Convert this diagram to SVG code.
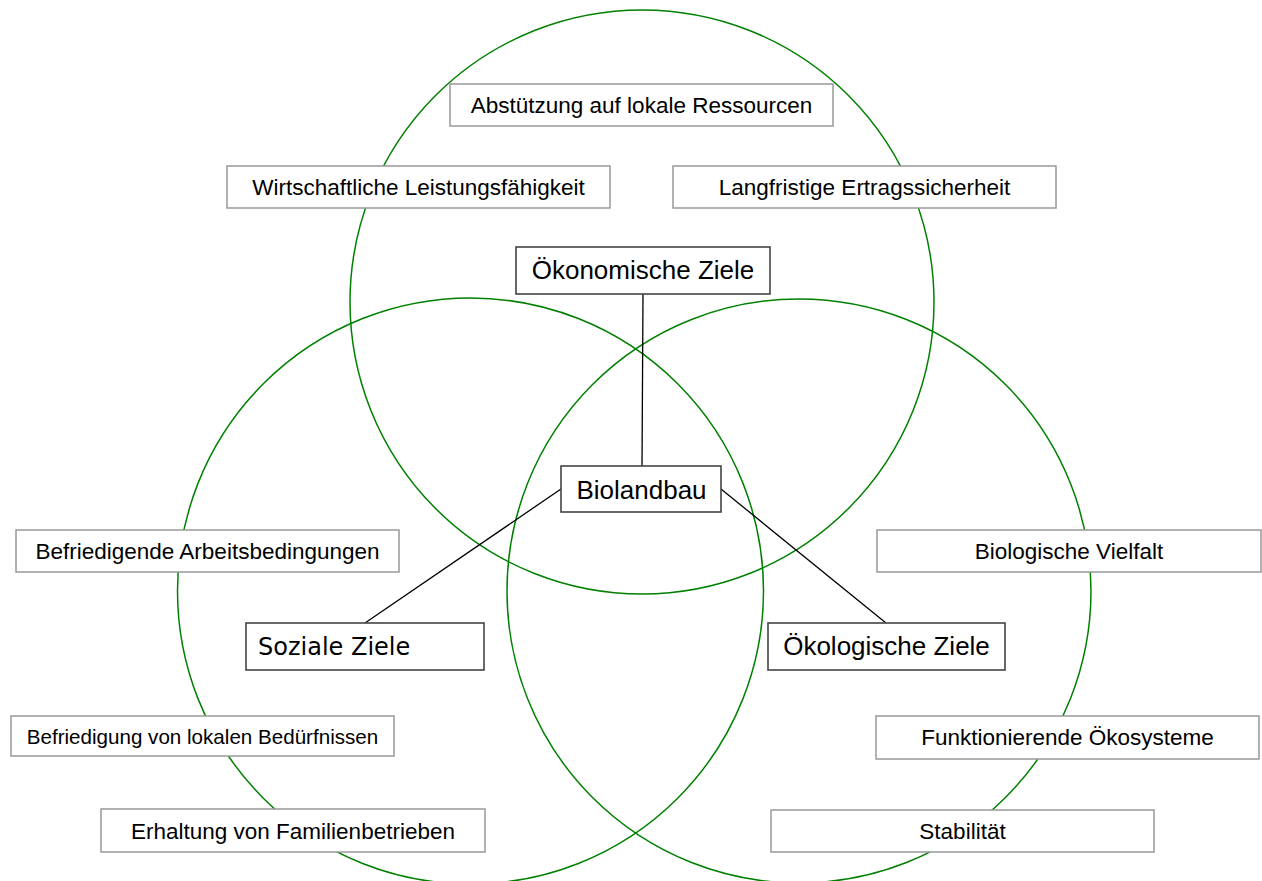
<svg xmlns="http://www.w3.org/2000/svg" width="1262" height="881" viewBox="0 0 1262 881">
<style>
.circle{fill:none;stroke:#008000;stroke-width:1.5}
.conn{stroke:#000;stroke-width:1.3;fill:none}
.small rect{fill:#fff;stroke:#999;stroke-width:1.5}
.main rect{fill:#fff;stroke:#444;stroke-width:1.6}
.small text{font-family:"Liberation Sans",Arial,sans-serif;font-size:22.5px;fill:#000;text-anchor:middle}
.small text.sm{font-size:20.6px}
.main text{font-family:"Liberation Sans",Arial,sans-serif;font-size:26px;fill:#000;text-anchor:middle}
.main text.dv{font-family:"DejaVu Sans",Verdana,sans-serif;font-size:24px;text-anchor:start}
</style>
<rect width="1262" height="881" fill="#fff"/>
<g id="circles">
<circle class="circle" cx="642" cy="302" r="292"/>
<circle class="circle" cx="470.5" cy="591" r="293"/>
<circle class="circle" cx="799" cy="591" r="292"/>
</g>
<g id="connectors">
<line class="conn" x1="643" y1="294" x2="642" y2="466"/>
<line class="conn" x1="561" y1="489" x2="365" y2="623"/>
<line class="conn" x1="721" y1="489" x2="886" y2="623"/>
</g>
<g id="n-abstuetzung" class="small"><rect x="450" y="84" width="383" height="42"/><text x="641.5" y="113">Abstützung auf lokale Ressourcen</text></g>
<g id="n-wirtschaftlich" class="small"><rect x="227" y="166" width="383" height="42"/><text x="418.5" y="195">Wirtschaftliche Leistungsfähigkeit</text></g>
<g id="n-langfristig" class="small"><rect x="673" y="166" width="383" height="42"/><text x="864.5" y="195">Langfristige Ertragssicherheit</text></g>
<g id="n-oekonomisch" class="main"><rect x="516" y="247" width="254" height="47"/><text x="643" y="279">Ökonomische Ziele</text></g>
<g id="n-biolandbau" class="main"><rect x="561" y="466" width="160" height="46"/><text x="641.5" y="499">Biolandbau</text></g>
<g id="n-sozial" class="main"><rect x="246" y="623" width="238" height="47"/><text class="dv" x="258" y="655">Soziale Ziele</text></g>
<g id="n-oekologisch" class="main"><rect x="768" y="623" width="237" height="47"/><text x="886.5" y="655">Ökologische Ziele</text></g>
<g id="n-biovielfalt" class="small"><rect x="877" y="530" width="384" height="42"/><text x="1069" y="559">Biologische Vielfalt</text></g>
<g id="n-oekosysteme" class="small"><rect x="876" y="716" width="383" height="43"/><text x="1067.5" y="745">Funktionierende Ökosysteme</text></g>
<g id="n-stabilitaet" class="small"><rect x="771" y="810" width="383" height="42"/><text x="962.5" y="839">Stabilität</text></g>
<g id="n-arbeitsbedingungen" class="small"><rect x="16" y="530" width="383" height="42"/><text x="207.5" y="559">Befriedigende Arbeitsbedingungen</text></g>
<g id="n-beduerfnisse" class="small"><rect x="11" y="716" width="383" height="40"/><text class="sm" x="202.5" y="744">Befriedigung von lokalen Bedürfnissen</text></g>
<g id="n-familienbetriebe" class="small"><rect x="101" y="809" width="384" height="43"/><text x="293" y="839">Erhaltung von Familienbetrieben</text></g>
</svg>
